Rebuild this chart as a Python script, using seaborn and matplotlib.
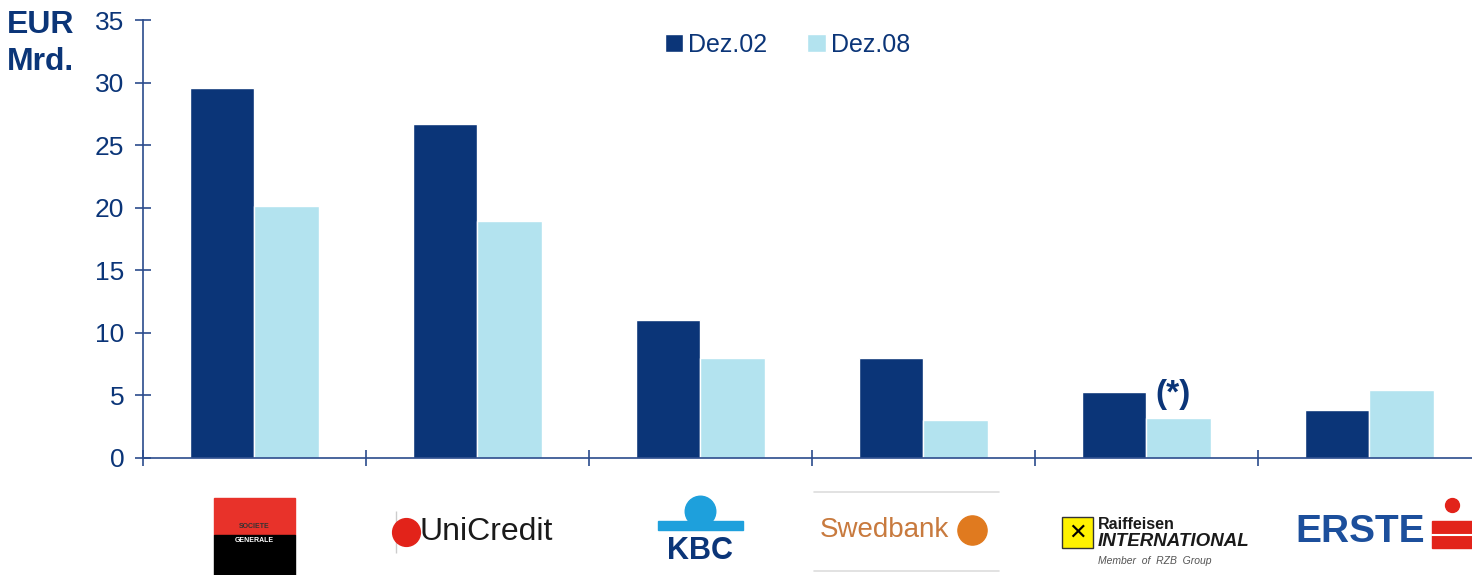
import pandas as pd
import seaborn as sns
import matplotlib.pyplot as plt
from matplotlib.patches import Rectangle

# data (EUR Mrd.)
banks = ["Société Générale", "UniCredit", "KBC", "Swedbank", "Raiffeisen International", "Erste"]
dez02 = [29.6, 26.7, 11.0, 8.0, 5.3, 3.8]
dez08 = [20.1, 18.9, 8.0, 3.0, 3.2, 5.4]
series = ["Dez.02", "Dez.08"]

navy = "#0B3578"
light = "#B3E3EF"
axis_col = "#2B4C8C"

df = pd.DataFrame({"Bank": banks * 2,
                   "Periode": [series[0]] * 6 + [series[1]] * 6,
                   "Wert": dez02 + dez08})

sns.set_style("white")
plt.rcParams["font.family"] = ["Liberation Sans", "DejaVu Sans"]

fig = plt.figure(figsize=(14.72, 5.75), dpi=100)
ax = fig.add_axes([0.0971, 0.2035, 0.9029, 0.7617])

sns.barplot(data=df, x="Bank", y="Wert", hue="Periode", palette=[navy, light],
            width=0.575, saturation=1, ax=ax, legend=True)

ax.set_ylim(0, 35)
ax.set_xlim(-0.5, 5.46)
ax.set_yticks(range(0, 36, 5))
ax.set_xticks([i - 0.5 for i in range(6)])
ax.set_xticklabels([])
ax.set_xlabel("")
ax.set_ylabel("")
for s in ["top", "right"]:
    ax.spines[s].set_visible(False)
for s in ["left", "bottom"]:
    ax.spines[s].set_color(axis_col)
    ax.spines[s].set_linewidth(1.2)
ax.tick_params(axis="both", bottom=True, left=True, direction="inout", length=12,
               width=1.2, color=axis_col)
ax.tick_params(axis="y", labelsize=19, labelcolor=navy, pad=7.5)

# legend
leg = ax.legend(loc="upper center", bbox_to_anchor=(0.485, 1.022), ncol=2, frameon=False,
                fontsize=18, handlelength=0.75, handleheight=0.75, handletextpad=0.2,
                columnspacing=1.6)
for t in leg.get_texts():
    t.set_color(navy)

fig.text(0.005, 0.982, "EUR\nMrd.", fontsize=23, fontweight="bold", color=navy,
         va="top", ha="left", linespacing=1.3)

ax.text(4.12, 3.2 + 0.6, "(*)", fontsize=24, fontweight="bold", color=navy,
        ha="center", va="bottom")

# logo stand-ins below the axis
tr = ax.get_xaxis_transform()
# Société Générale
ax.add_patch(Rectangle((-0.18, -0.176), 0.36, 0.085, transform=tr, color="#E8322A", clip_on=False))
ax.add_patch(Rectangle((-0.18, -0.267), 0.36, 0.091, transform=tr, color="black", clip_on=False))
ax.text(0, -0.165, "SOCIETE", transform=tr, fontsize=5, color="#333333", ha="center", va="bottom", fontweight="bold")
ax.text(0, -0.18, "GENERALE", transform=tr, fontsize=5, color="white", ha="center", va="top", fontweight="bold")
# UniCredit
ax.plot([1 - 0.365], [-0.17], transform=tr, marker="|", ms=30, mew=1, color="#cccccc", clip_on=False)
ax.plot([1 - 0.32], [-0.168], transform=tr, marker="o", ms=20, color="#E2231A", clip_on=False)
ax.text(1 - 0.26, -0.17, "UniCredit", transform=tr, fontsize=23, color="#1a1a1a",
        ha="left", va="center")
# KBC
ax.add_patch(Rectangle((2 - 0.19, -0.165), 0.38, 0.022, transform=tr, color="#1EA0DC", clip_on=False))
ax.plot([2], [-0.12], transform=tr, marker="o", ms=22, color="#1EA0DC", clip_on=False)
ax.text(2, -0.213, "KBC", transform=tr, fontsize=22, fontweight="heavy", color="#0B3578",
        ha="center", va="center")
# Swedbank
ax.plot([3 - 0.49, 3 + 0.34], [-0.077, -0.077], transform=tr, color="#dddddd", lw=1.2, clip_on=False)
ax.plot([3 - 0.49, 3 + 0.34], [-0.258, -0.258], transform=tr, color="#dddddd", lw=1.2, clip_on=False)
ax.text(3 - 0.465, -0.165, "Swedbank", transform=tr, fontsize=20, color="#C87A3E",
        ha="left", va="center")
ax.plot([3 + 0.22], [-0.165], transform=tr, marker="o", ms=21, color="#E07A1F", clip_on=False)
# Raiffeisen
ax.add_patch(Rectangle((4 - 0.38, -0.205), 0.14, 0.07, transform=tr, color="#FFF200", ec="#333333", clip_on=False))
ax.text(4 - 0.31, -0.17, "✕", transform=tr, fontsize=16, color="black", ha="center", va="center",
        fontweight="bold", family=["DejaVu Sans"])
ax.text(4 - 0.218, -0.152, "Raiffeisen", transform=tr, fontsize=11.5, fontweight="bold",
        color="#1a1a1a", ha="left", va="center")
ax.text(4 - 0.218, -0.19, "INTERNATIONAL", transform=tr, fontsize=13.5, fontweight="bold",
        style="italic", color="#1a1a1a", ha="left", va="center")
ax.text(4 - 0.218, -0.235, "Member  of  RZB  Group", transform=tr, fontsize=7.5, style="italic",
        color="#555555", ha="left", va="center")
# Erste
ax.text(5 + 0.25, -0.17, "ERSTE", transform=tr, fontsize=28, fontweight="heavy", color="#1C4F9C",
        ha="right", va="center")
ax.add_patch(Rectangle((5 + 0.28, -0.205), 0.18, 0.062, transform=tr, color="#E2231A", clip_on=False))
ax.plot([5 + 0.28, 5 + 0.46], [-0.175, -0.175], transform=tr, color="white", lw=1.5, clip_on=False)
ax.plot([5 + 0.37], [-0.107], transform=tr, marker="o", ms=10, color="#E2231A", clip_on=False)

fig.savefig("out.png", dpi=100)
